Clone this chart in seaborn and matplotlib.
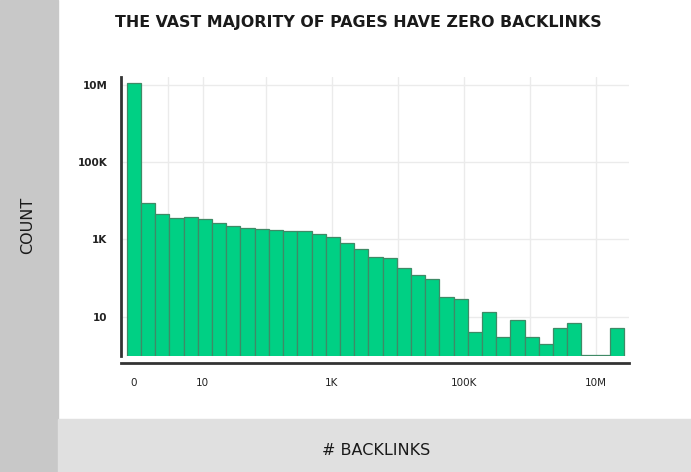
import matplotlib
matplotlib.use("Agg")
import matplotlib.pyplot as plt
from matplotlib.patches import Rectangle
import seaborn as sns
import numpy as np
import pandas as pd

# Histogram counts per log bin, left to right
counts = [11500000, 8700, 4530, 3570, 3790, 3280, 2650, 2160, 2000, 1890,
          1750, 1610, 1640, 1380, 1120, 790, 550, 350, 330, 177,
          122, 92, 32, 28, 4, 13, 3, 8, 3, 2,
          5, 7, 1, 1, 5]

# bins are equal width in log10(1 + backlinks)
bin_width = 0.2153

x_tick_vals = [0, 10, 1e3, 1e5, 1e7]
x_tick_labels = ["0", "10", "1K", "100K", "10M"]
x_grid_vals = [2.3, 10, 100, 1e3, 1e4, 1e5, 1e6, 1e7]
y_tick_vals = [10, 1e3, 1e5, 1e7]
y_tick_labels = ["10", "1K", "100K", "10M"]

GREEN = "#00d084"
EDGE = "#3f8a66"
GRID = "#ebebeb"

centers = bin_width * np.arange(len(counts))
df = pd.DataFrame({"pos": centers, "count": counts})

sns.set_style("white")
fig = plt.figure(figsize=(6.91, 4.72), dpi=100)

# gray bands
fig.patches.append(Rectangle((0, 0), 0.0839, 1, transform=fig.transFigure,
                             color="#c8c8c8", zorder=0))
fig.patches.append(Rectangle((0.0839, 0), 1 - 0.0839, 0.1123,
                             transform=fig.transFigure, color="#e0e0e0", zorder=0))

ax = fig.add_axes([0.1755, 0.2464, 0.910 - 0.1755, 0.837 - 0.2464])
sns.histplot(data=df, x="pos", weights="count", binwidth=bin_width,
             binrange=(-bin_width / 2, centers[-1] + bin_width / 2), ax=ax,
             color=GREEN, edgecolor=EDGE, linewidth=0.9, alpha=1, zorder=2)
ax.set_yscale("log")
ax.set_ylim(0.97, 10 ** 7.206)
ax.set_xlim(-0.192, 7.5)

ax.set_yticks(y_tick_vals)
ax.set_yticklabels(y_tick_labels, fontweight="bold")
ax.yaxis.set_minor_locator(matplotlib.ticker.NullLocator())
ax.set_xticks(np.log10(1 + np.array(x_tick_vals)))
ax.set_xticklabels(x_tick_labels, fontweight="bold")

ax.tick_params(axis="both", which="both", length=0, labelsize=7.5,
               colors="#222222")
ax.tick_params(axis="y", pad=10)
ax.tick_params(axis="x", pad=11)

# grid
ax.grid(False)
for v in y_tick_vals:
    ax.axhline(v, color=GRID, linewidth=1, zorder=0)
for v in np.log10(1 + np.array(x_grid_vals)):
    ax.axvline(v, color=GRID, linewidth=1, zorder=0)

sns.despine(ax=ax)
ax.spines["bottom"].set_position(("outward", 5))
for side in ["left", "bottom"]:
    ax.spines[side].set_color("#333333")
    ax.spines[side].set_linewidth(2)
ax.set_xlabel("")
ax.set_ylabel("")

fig.text(0.518, 0.953, "THE VAST MAJORITY OF PAGES HAVE ZERO BACKLINKS",
         ha="center", va="center", fontsize=11.4, fontweight="bold",
         color="#1a1a1a")
fig.text(0.0405, 0.523, "COUNT", rotation=90, ha="center", va="center",
         fontsize=11.5, color="#1a1a1a")
fig.text(0.544, 0.045, "# BACKLINKS", ha="center", va="center",
         fontsize=11.5, color="#1a1a1a")

fig.savefig("out.png", dpi=100)
